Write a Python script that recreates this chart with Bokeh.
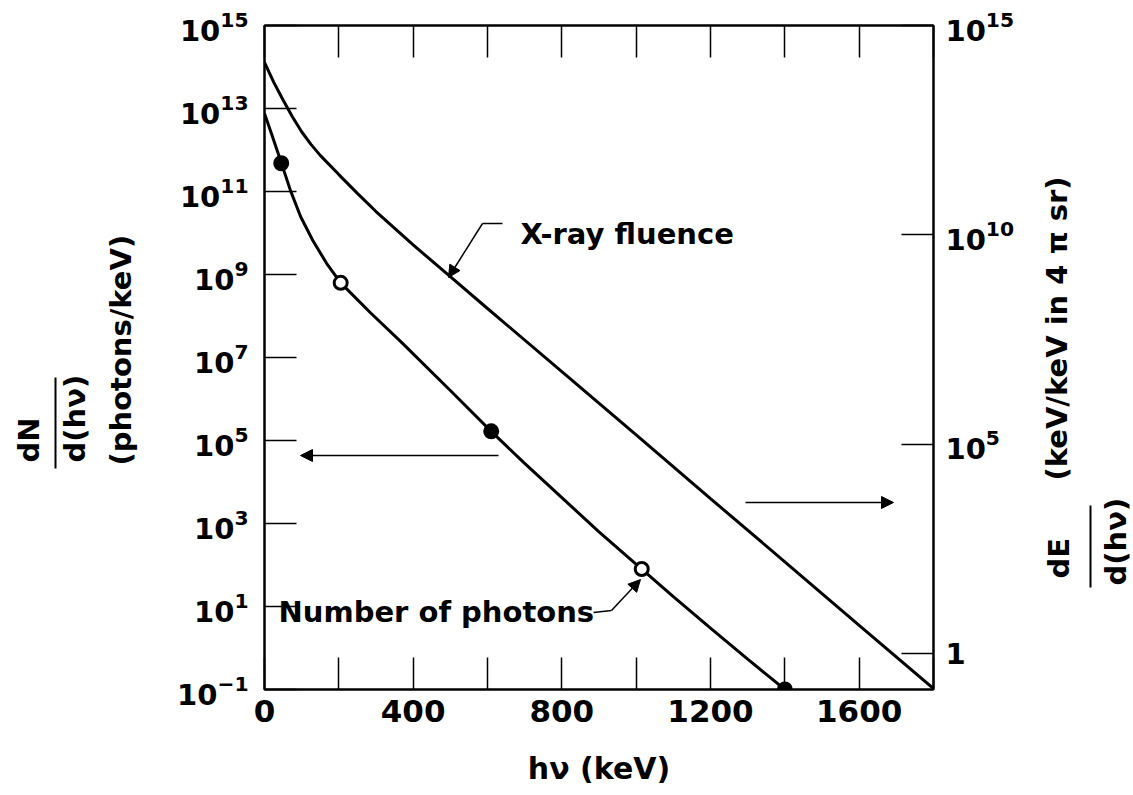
import math
from bokeh.plotting import figure
from bokeh.layouts import row
from bokeh.models import (Range1d, LogAxis, LinearAxis, LogScale, FixedTicker,
                          LogTickFormatter, Label, Arrow, NormalHead)
from bokeh.core.properties import value
from bokeh.embed import file_html
from bokeh.resources import INLINE

# ---------------- data ----------------
# Number of photons, dN/d(hv) (photons/keV), left axis
photon_kev = [0, 20, 45, 70, 97, 130, 167, 205, 285, 366, 500, 610, 700, 800,
              900, 1015, 1100, 1200, 1300, 1400]
photon_dn = [7.6e12, 2.3e12, 5.0e11, 1.05e11, 2.5e10, 6.6e9, 1.86e9, 6.3e8,
             1.2e8, 2.45e7, 1.6e6, 1.66e5, 2.8e4, 4.2e3, 630, 80, 17.4, 3.0,
             0.54, 0.1]

# marked points on the photon curve
point_kev = [45, 205, 610, 1015, 1400]
point_dn = [4.8e11, 6.3e8, 1.66e5, 80, 0.1]

# X-ray fluence, dE/d(hv) (keV/keV in 4 pi sr), right axis
fluence_kev = [0, 25, 50, 75, 100, 125, 150, 200, 250, 300, 400, 500, 600,
               800, 1000, 1200, 1400, 1600, 1800]
fluence_de = [1.32e14, 4.37e13, 1.66e13, 6.6e12, 2.9e12, 1.45e12, 7.9e11,
              2.75e11, 9.8e10, 3.6e10, 5.75e9, 1.0e9, 1.74e8, 5.4e6, 1.66e5,
              5.0e3, 155, 4.7, 0.145]

# axes
x_major_ticks = [0, 400, 800, 1200, 1600]
x_minor_ticks = [200, 600, 1000, 1400, 1800]
top_ticks = [0, 200, 400, 600, 800, 1000, 1200, 1400, 1600, 1800]
left_ticks = [1e15, 1e13, 1e11, 1e9, 1e7, 1e5, 1e3, 1e1, 1e-1]
right_ticks = [1e15, 1e10, 1e5, 1]

# ---------------- layout ----------------
W, H = 1133, 795
WL, WR = 150, 103           # side panels holding the vertical axis titles
X0, X1, Y0, Y1 = 264, 933, 25, 689   # plot frame in page pixels
XMAX = 1800
LEFT_LO, LEFT_HI = 0.1, 1e15
RIGHT_LO, RIGHT_HI = 10 ** -0.86, 1e15
FONT = "DejaVu Sans"


def dx(px):
    return (px - X0) / (X1 - X0) * XMAX


def dy(py):
    lo, hi = math.log10(LEFT_LO), math.log10(LEFT_HI)
    return 10 ** (hi - (py - Y0) / (Y1 - Y0) * (hi - lo))


p = figure(width=W - WL - WR, height=H, x_range=Range1d(0, XMAX),
           y_range=Range1d(LEFT_LO, LEFT_HI), y_axis_type="log",
           output_backend="svg", toolbar_location=None,
           min_border_left=X0 - WL, min_border_right=(W - WR) - X1,
           min_border_top=Y0, min_border_bottom=H - Y1)
p.frame_align = False
p.xgrid.visible = False
p.ygrid.visible = False
p.outline_line_color = "black"
p.outline_line_width = 2
p.background_fill_color = "white"
p.border_fill_color = "white"

p.extra_y_ranges = {"fluence": Range1d(RIGHT_LO, RIGHT_HI)}
p.extra_y_scales = {"fluence": LogScale()}

TICK = 32


def style_axis(ax, labels=True, standoff=8, size="31px"):
    ax.axis_line_color = "black"
    ax.axis_line_width = 2
    ax.major_tick_in = TICK
    ax.major_tick_out = 0
    ax.minor_tick_in = TICK
    ax.minor_tick_out = 0
    ax.major_tick_line_width = 1.5
    ax.minor_tick_line_width = 1.5
    ax.major_tick_line_color = "black"
    ax.minor_tick_line_color = "black"
    if labels:
        ax.major_label_text_font = FONT
        ax.major_label_text_font_style = "bold"
        ax.major_label_text_font_size = size
        ax.major_label_text_color = "black"
        ax.major_label_standoff = standoff
    else:
        ax.major_label_text_color = None
        ax.major_label_text_font_size = "6px"


# left axis
la = p.yaxis[0]
la.ticker = FixedTicker(ticks=left_ticks, minor_ticks=[])
la.formatter = LogTickFormatter()
style_axis(la, standoff=16, size="29px")

# bottom axis
ba = p.xaxis[0]
ba.ticker = FixedTicker(ticks=x_major_ticks, minor_ticks=x_minor_ticks)
style_axis(ba, standoff=10, size="31px")
ba.axis_label = "hν (keV)"
ba.axis_label_text_font = FONT
ba.axis_label_text_font_style = "bold"
ba.axis_label_text_font_size = "30px"
ba.axis_label_text_color = "black"
ba.axis_label_standoff = 26

# top axis
ta = LinearAxis(ticker=FixedTicker(ticks=top_ticks, minor_ticks=[]))
style_axis(ta, labels=False)
p.add_layout(ta, "above")

# right axis
ra = LogAxis(y_range_name="fluence",
             ticker=FixedTicker(ticks=right_ticks, minor_ticks=[]),
             formatter=LogTickFormatter(min_exponent=1))
style_axis(ra, standoff=12, size="29px")
p.add_layout(ra, "right")

# ---------------- curves ----------------
p.line(photon_kev, photon_dn, line_width=3, line_color="black")
p.line(fluence_kev, fluence_de, line_width=3, line_color="black",
       y_range_name="fluence")
fills = ["black" if i % 2 == 0 else "white" for i in range(len(point_kev))]
p.scatter(point_kev, point_dn, size=13, marker="circle", fill_color=fills,
          line_color="black", line_width=3)


# ---------------- annotations inside the plot ----------------
def seg(x1, y1, x2, y2, width=1.5, head=False):
    p.add_layout(Arrow(x_start=dx(x1), y_start=dy(y1), x_end=dx(x2), y_end=dy(y2),
                       line_width=width, line_color="black",
                       end=NormalHead(size=12, fill_color="black",
                                      line_color="black") if head else None))


p.add_layout(Label(x=dx(520), y=dy(233), text="X-ray fluence",
                   text_align="left", text_baseline="middle", text_font=FONT,
                   text_font_style="bold", text_font_size="29px", text_color="black"))
seg(502, 223, 482, 223)
seg(482, 223, 448, 277, head=True)

p.add_layout(Label(x=dx(278), y=dy(611), text="Number of photons",
                   text_align="left", text_baseline="middle", text_font=FONT,
                   text_font_style="bold", text_font_size="29px", text_color="black"))
seg(593, 612, 611, 610)
seg(611, 610, 640, 579, head=True)

# direction arrows pointing to the axes
seg(498, 455, 300, 455, head=True)
seg(745, 502, 893, 502, head=True)


# ---------------- side panels with the vertical axis titles ----------------
def side_fig(width):
    f = figure(width=width, height=H, x_range=Range1d(0, width),
               y_range=Range1d(0, H), output_backend="svg",
               toolbar_location=None, min_border=0,
               x_axis_location=None, y_axis_location=None)
    f.frame_align = False
    f.xgrid.visible = False
    f.ygrid.visible = False
    f.outline_line_color = None
    f.background_fill_color = "white"
    f.border_fill_color = "white"
    return f


def vtext(f, off, pxs, pys, texts):
    f.text(x=[px - off for px in pxs], y=[H - py for py in pys], text=texts,
           angle=math.pi / 2, text_align="left", text_baseline="middle",
           text_font=value(FONT), text_font_style="bold",
           text_font_size=value("29px"), text_color="black")


def vbar_line(f, off, px, py0, py1):
    f.segment(x0=[px - off], y0=[H - py0], x1=[px - off], y1=[H - py1],
              line_width=2, line_color="black")


left_fig = side_fig(WL)
vtext(left_fig, 0, [28, 74, 120], [462, 462, 465],
      ["dN", "d(hν)", "(photons/keV)"])
vbar_line(left_fig, 0, 55, 377, 468)

right_fig = side_fig(WR)
off = W - WR
vtext(right_fig, off, [1056, 1058, 1115], [480, 578, 585],
      ["(keV/keV in 4 π sr)", "dE", "d(hν)"])
vbar_line(right_fig, off, 1090, 505, 587)

layout = row(left_fig, p, right_fig, spacing=0)
open("out.html", "w").write(file_html(layout, INLINE))
